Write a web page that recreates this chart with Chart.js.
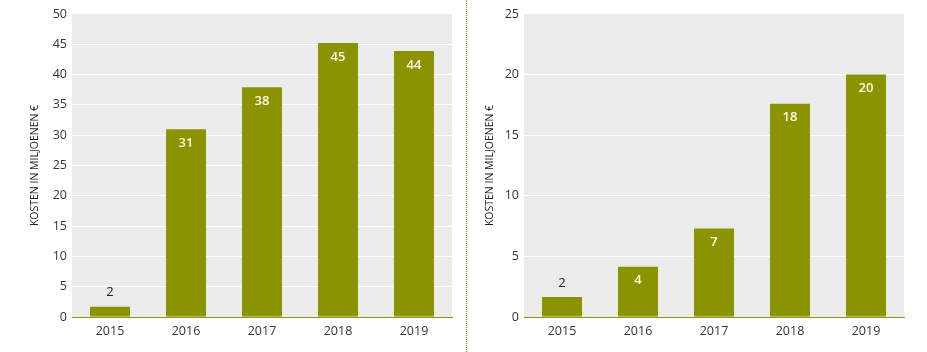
<!DOCTYPE html>
<html lang="nl">
<head>
  <meta charset="UTF-8">
  <title>Kosten in miljoenen</title>
  <script src="https://cdn.jsdelivr.net/npm/chart.js"></script>
  <style>
    body { margin: 0; background: #fff; }
    .wrap { position: relative; width: 927px; height: 352px; }
    #leftChart { position: absolute; left: 0; top: 0; }
    #rightChart { position: absolute; left: 460px; top: 0; }
    .divider {
      position: absolute; left: 466px; top: 0; height: 352px;
      border-left: 1px dotted #a08c50;
    }
  </style>
</head>
<body>
  <div class="wrap">
    <canvas id="leftChart" width="460" height="352"></canvas>
    <div class="divider"></div>
    <canvas id="rightChart" width="467" height="352"></canvas>
  </div>

  <script>
    // data
    const years = ['2015', '2016', '2017', '2018', '2019'];
    const leftValues = [1.7, 31, 37.9, 45.2, 43.9];
    const rightValues = [1.65, 4.15, 7.3, 17.6, 20];
    const axisTitle = 'KOSTEN IN MILJOENEN €';

    const olive = '#8b9400';
    const plotGrey = '#ebebeb';
    const fontFamily = '"Open Sans", "DejaVu Sans", sans-serif';

    // grey plot background
    const plotBg = {
      id: 'plotBg',
      beforeDraw(chart) {
        const a = chart.chartArea, ctx = chart.ctx;
        ctx.save();
        ctx.fillStyle = plotGrey;
        ctx.fillRect(a.left, a.top, a.right - a.left, a.bottom - a.top);
        ctx.restore();
      }
    };

    // value labels: inside near the top, or above the bar when it is short
    const barLabels = {
      id: 'barLabels',
      afterDatasetsDraw(chart) {
        const ctx = chart.ctx;
        const meta = chart.getDatasetMeta(0);
        const data = chart.data.datasets[0].data;
        ctx.save();
        ctx.textAlign = 'center';
        ctx.textBaseline = 'middle';
        meta.data.forEach((bar, i) => {
          const h = bar.base - bar.y;
          const txt = String(Math.round(data[i]));
          if (h < 30) {
            ctx.font = '13px ' + fontFamily;
            ctx.fillStyle = '#222';
            ctx.fillText(txt, bar.x, bar.y - 14);
          } else {
            ctx.font = '600 13px ' + fontFamily;
            ctx.fillStyle = '#fffce6';
            ctx.fillText(txt, bar.x, bar.y + 14);
          }
        });
        ctx.restore();
      }
    };

    function makeChart(id, values, max, yWidth, padRight, titlePad) {
      const ctx = document.getElementById(id).getContext('2d');
      return new Chart(ctx, {
        type: 'bar',
        data: {
          labels: years,
          datasets: [{
            data: values,
            backgroundColor: olive,
            barPercentage: 1,
            categoryPercentage: 0.526
          }]
        },
        options: {
          responsive: false,
          animation: false,
          layout: { padding: { top: 14, right: padRight, bottom: 0, left: 0 } },
          plugins: {
            legend: { display: false },
            tooltip: { enabled: false }
          },
          scales: {
            x: {
              grid: { display: false, drawTicks: false },
              border: { display: true, color: olive, width: 1 },
              ticks: { color: '#333', font: { family: fontFamily, size: 12.5 }, padding: 7 },
              afterFit(scale) { scale.height = 35; }
            },
            y: {
              min: 0,
              max: max,
              ticks: {
                stepSize: 5,
                color: '#333',
                font: { family: fontFamily, size: 12.5 },
                padding: 5
              },
              grid: {
                drawTicks: false,
                color: c => (c.tick && (c.tick.value === 0 || c.tick.value === max)) ? 'rgba(0,0,0,0)' : '#ffffff',
                lineWidth: 1
              },
              border: { display: false },
              title: {
                display: true,
                text: axisTitle,
                color: '#222',
                font: { family: fontFamily, size: 10.5 },
                padding: { top: titlePad, bottom: 0 }
              },
              afterFit(scale) { scale.width = yWidth; }
            }
          }
        },
        plugins: [plotBg, barLabels]
      });
    }

    makeChart('leftChart', leftValues, 50, 72, 8, 29);
    makeChart('rightChart', rightValues, 25, 64, 23, 24);
  </script>
</body>
</html>
